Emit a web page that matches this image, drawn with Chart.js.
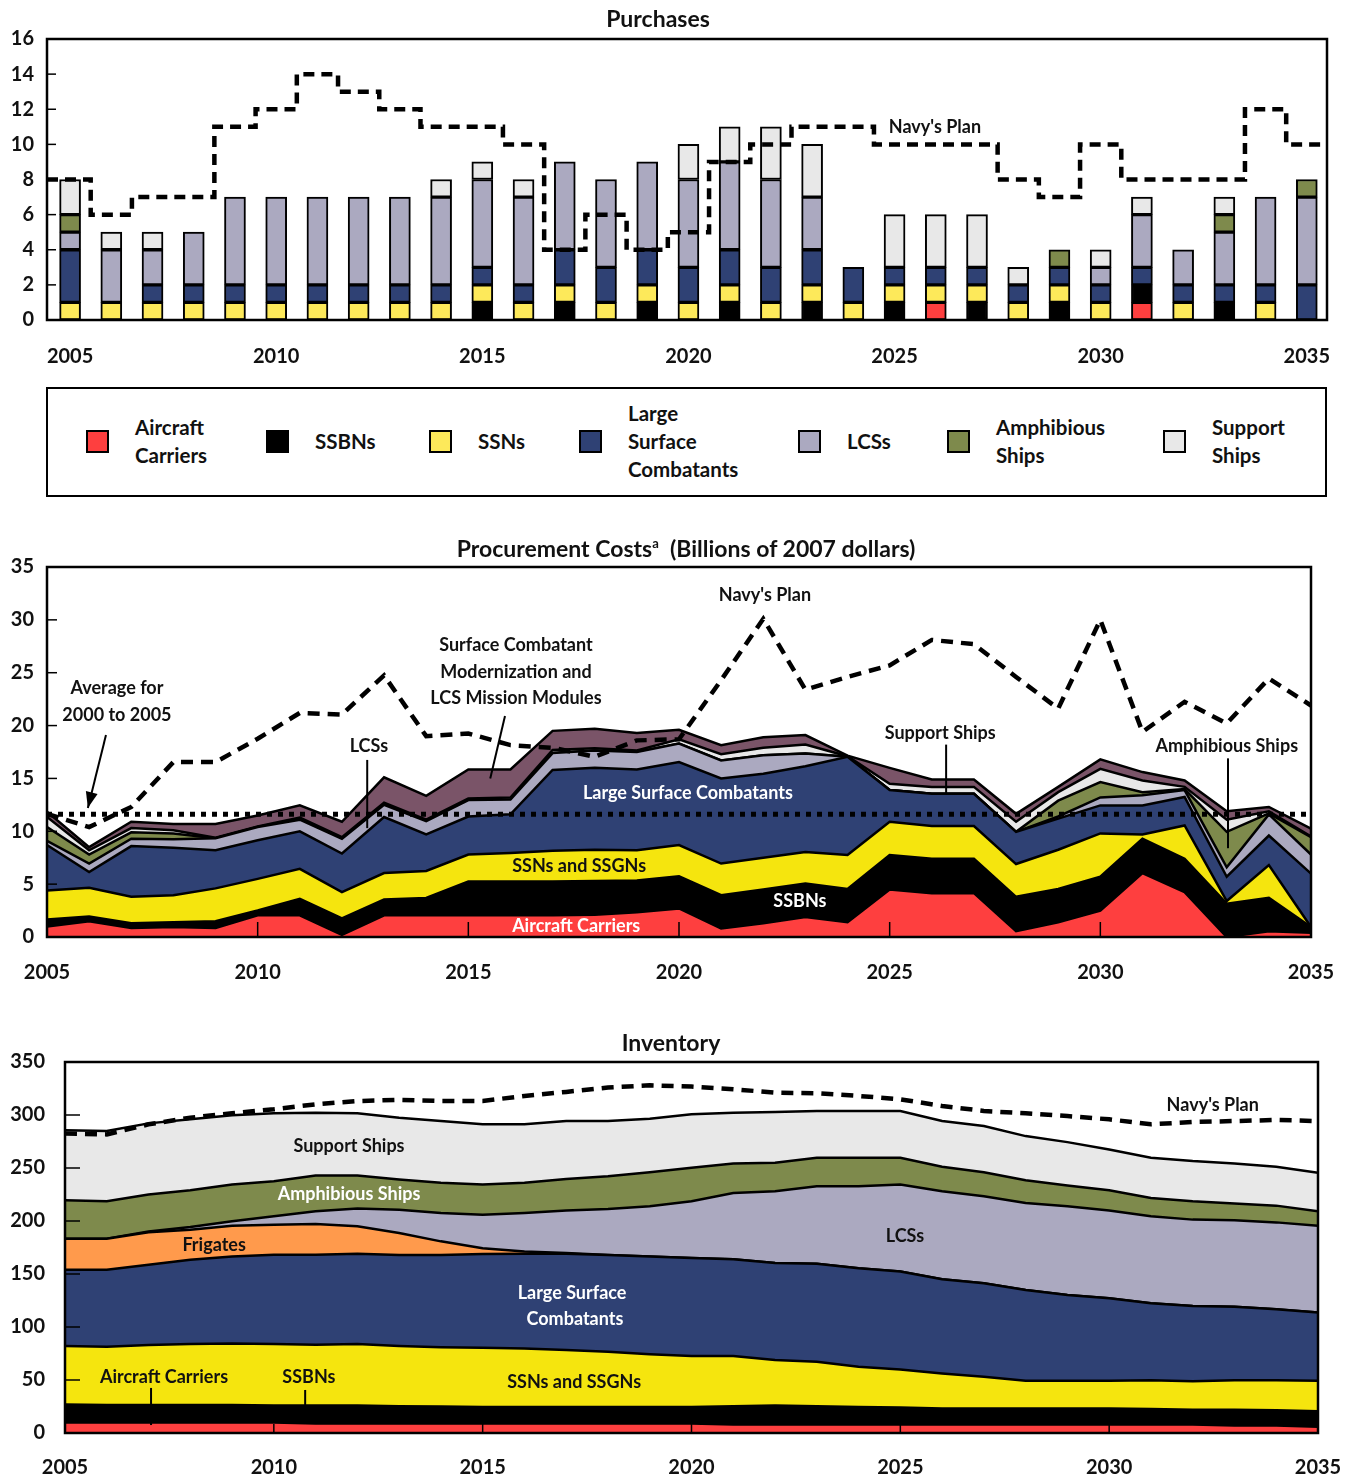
<!DOCTYPE html>
<html>
<head>
<meta charset="utf-8">
<script src="https://cdn.jsdelivr.net/npm/chart.js@4.4.0/dist/chart.umd.min.js"></script>
<style>
  body { margin: 0; background: #fff; font-family: Lato, "Open Sans", sans-serif; color: #111; }
  #page { position: relative; width: 1355px; height: 1482px; overflow: hidden; }
  canvas { position: absolute; left: 0; }
  .title { position: absolute; font-weight: 700; font-size: 23px; line-height: 26px; transform: translateX(-50%); white-space: nowrap; z-index: 2; }
  .title sup { font-size: 13px; vertical-align: 9px; }
  #legend { position: absolute; left: 46px; top: 387px; width: 1277px; height: 106px; border: 2px solid #000; }
  .sw { position: absolute; width: 19px; height: 19px; border: 2px solid #000; }
  .lab { position: absolute; font-weight: 700; font-size: 20.5px; line-height: 28px; white-space: pre; }
</style>
</head>
<body>
<div id="page">
  <div class="title" style="left:658px;top:5px;">Purchases</div>
  <div class="title" style="left:686px;top:530px;">Procurement Costs<sup>a</sup>&nbsp; (Billions of 2007 dollars)</div>
  <div class="title" style="left:671px;top:1029px;">Inventory</div>
  <canvas id="purchases" width="1355" height="380" style="top:0px"></canvas>
  <div id="legend"></div>
  <canvas id="costs" width="1355" height="460" style="top:540px"></canvas>
  <canvas id="inventory" width="1355" height="442" style="top:1040px"></canvas>
</div>
<script>
// ---------- shared ----------
const years = [];
for (let y = 2005; y <= 2035; y++) years.push(y);
const yearTicks = [2005, 2010, 2015, 2020, 2025, 2030, 2035];

const RED = '#fe3f3f', BLACK = '#000000', NAVY = '#2f4174', LAVENDER = '#aba9c0',
      OLIVE = '#7e8a4c', GRAY = '#e8e8e8', MAUVE = '#7a5468', ORANGE = '#ff9a4c',
      YELLOW_BAR = '#fde95a', YELLOW = '#f5e50e';

// ---------- Purchases (ships per year) ----------
const purchaseTicks = [0, 2, 4, 6, 8, 10, 12, 14, 16];
const carriersBuy = [0,0,0,0,0,0,0,0,0,0,0,0,0,0,0,0,0,0,0,0,0,1,0,0,0,0,1,0,0,0,0];
const ssbnsBuy    = [0,0,0,0,0,0,0,0,0,0,1,0,1,0,1,0,1,0,1,0,1,0,1,0,1,0,1,0,1,0,0];
const ssnsBuy     = [1,1,1,1,1,1,1,1,1,1,1,1,1,1,1,1,1,1,1,1,1,1,1,1,1,1,0,1,0,1,0];
const lscBuy      = [3,0,1,1,1,1,1,1,1,1,1,1,2,2,2,2,2,2,2,2,1,1,1,1,1,1,1,1,1,1,2];
const lcsBuy      = [1,3,2,3,5,5,5,5,5,5,5,5,5,5,5,5,5,5,3,0,0,0,0,0,0,1,3,2,3,5,5];
const amphibBuy   = [1,0,0,0,0,0,0,0,0,0,0,0,0,0,0,0,0,0,0,0,0,0,0,0,1,0,0,0,1,0,1];
const supportBuy  = [2,1,1,0,0,0,0,0,0,1,1,1,0,0,0,2,2,3,3,0,3,3,3,1,0,1,1,0,1,0,0];
const planBuy     = [8,6,7,7,11,12,14,13,12,11,11,10,4,6,4,5,9,10,11,11,10,10,10,8,7,10,8,8,8,12,10];

const legendNames  = ['Aircraft\nCarriers', 'SSBNs', 'SSNs', 'Large\nSurface\nCombatants', 'LCSs', 'Amphibious\nShips', 'Support\nShips'];
const legendColors = [RED, BLACK, YELLOW_BAR, NAVY, LAVENDER, OLIVE, GRAY];
const legendX      = [97, 277, 440, 590, 809, 958, 1174];

// ---------- Procurement costs (billions of 2007 dollars) ----------
const costTicks = [0, 5, 10, 15, 20, 25, 30, 35];
const carriersCost = [1.0,1.5,0.85,0.95,0.85,2.05,2.05,0.2,2.05,2.05,2.05,2.05,2.05,2.1,2.35,2.7,0.8,1.3,1.9,1.4,4.5,4.15,4.15,0.55,1.4,2.5,6.05,4.25,0,0.55,0.4];
const ssbnsCost    = [0.65,0.45,0.45,0.45,0.65,0.45,1.55,1.55,1.5,1.65,3.2,3.2,3.2,3.2,3.0,3.05,3.15,3.2,3.15,3.15,3.25,3.25,3.25,3.25,3.15,3.2,3.25,3.15,3.15,3.15,0.55];
const ssnsCost     = [2.75,2.7,2.5,2.55,3.1,3.0,2.85,2.5,2.5,2.55,2.55,2.7,2.9,2.95,2.85,2.95,3.0,3.0,3.0,3.2,3.15,3.1,3.1,3.1,3.7,4.1,0.4,3.15,0.25,3.1,0];
const lscCost      = [4.3,1.5,4.8,4.5,3.6,3.65,3.55,3.65,5.3,3.45,3.6,3.65,7.65,7.75,7.65,7.85,8.05,7.95,8.1,9.3,3.0,3.05,3.05,3.05,2.95,2.65,2.75,2.7,2.3,2.8,5.05];
const lcsCost      = [0.4,0.8,0.7,0.8,1.15,1.25,1.1,1.4,1.15,1.25,1.55,1.4,1.6,1.65,1.65,1.75,1.7,1.75,1.2,0,0,0,0,0,0.2,0.75,0.95,0.65,0.9,2.0,1.8];
const amphibCost   = [1.3,0.85,0.6,0.55,0,0,0,0,0,0,0,0,0,0,0,0,0,0,0,0,0,0,0,0,1.5,1.45,0.3,0.1,3.35,0.1,1.65];
const supportCost  = [0.95,0.4,0.4,0.3,0.05,0.05,0.2,0.15,0.2,0.15,0.15,0.2,0.3,0.2,0.15,0.4,0.6,0.7,0.85,0.05,0.6,0.65,0.65,0.95,0.8,1.25,1.1,0.2,1.15,0.2,0.05];
const modCost      = [0.5,0.3,0.6,0.6,1.3,1.05,1.15,1.45,2.4,2.25,2.75,2.65,1.8,1.85,1.65,0.9,0.85,1.0,0.9,0.05,1.5,0.7,0.7,0.75,0.5,0.9,0.8,0.6,0.8,0.4,0.75];
const planCost     = [11.65,10.4,12.3,16.55,16.55,18.75,21.2,21.05,24.75,19.0,19.25,18.15,17.9,17.05,18.6,18.7,24.3,30.1,23.4,24.6,25.7,28.1,27.7,24.6,21.6,30.0,19.4,22.25,20.2,24.45,21.9];
const avgCost2000to2005 = 11.6;

// ---------- Inventory (number of ships) ----------
const invTicks = [0, 50, 100, 150, 200, 250, 300, 350];
const carriersInv = [10,10,10,10,10,10,9,9,9,9,9,9,9,9,9,9,8,8,8,8,8,8,8,8,8,8,8,8,7,7,6];
const ssbnsInv    = [17,16.5,16.5,16.5,16.5,16,17,17,16.2,16,15.6,15.6,15.6,15.6,15.6,15.6,17.2,17.9,17.2,16.6,16,15,15,15,15,15,14.7,14,15,14.5,14.5];
const ssnsInv     = [55,54.9,56.5,57.5,58,58,57.3,58,56.8,55.8,55.8,55.2,53.6,52.1,49.8,48,47.4,42.9,42,37.9,35.9,33.2,30,26.2,26.2,26.2,27.1,26.9,27.8,28.3,28.7];
const lscInv      = [72,72.6,75.7,79.4,82.1,84.1,84.8,85,86,87.2,88.4,89.2,90.8,91.3,92.2,92.4,91.4,91.5,92.4,93,92.5,88.8,88.3,85.8,81.1,77.9,72.6,71,69.4,66.9,64.4];
const frigatesInv = [29.3,29.3,30.6,28.4,29,28.4,29.1,26,20.6,12.8,5.6,2.3,0.7,0,0,0,0,0,0,0,0,0,0,0,0,0,0,0,0,0,0];
const lcsInv      = [0,0,0.7,2.5,4.1,7.9,11.9,16.7,22.1,26.8,31.6,36.3,40.3,43.4,47.3,53.6,62.5,67.7,73.2,77.3,82,83,82,82,83.6,82.9,82,81.4,81.4,82,82];
const amphibInv   = [36.3,35.3,34.9,34.7,34.7,33.1,33.8,31.2,28.4,28.4,28.4,28.4,29.7,30.9,32.1,31.6,27.8,26.9,26.8,26.8,25.2,23.1,22.7,21.5,19.5,19,17.4,17.3,15.8,15.8,13.5];
const supportInv  = [65.9,66.3,67.2,66.9,65.3,64.1,59.3,58.7,58.4,58.3,56.8,55.2,54.6,52,50.5,50.4,47.9,47.9,44.2,44.2,44.2,43.2,43.6,41.6,41,38.5,37.8,37.9,37.9,36.6,36.3];
const planInv     = [282.6,281.7,291.2,297.5,301.6,305.4,310.1,313.2,314.2,313.2,313.2,318,321.8,325.9,328,326.8,324.3,321.1,320.5,318,314.8,308.5,303.8,301.6,299,295.9,291.2,293.4,294.3,295.3,294.3];

// ---------- helpers ----------
Chart.defaults.font.family = 'Lato, "Open Sans", sans-serif';
Chart.defaults.color = '#111';

function pts(arr, skipZero) {
  return years.map((yr, i) => ({ x: yr, y: (skipZero && !arr[i]) ? null : arr[i] }));
}

function area(label, arr, color, first) {
  return {
    type: 'line', label: label, data: pts(arr), fill: first ? 'origin' : '-1',
    backgroundColor: color, borderColor: '#000', borderWidth: 2.5,
    pointRadius: 0, tension: 0, order: 1
  };
}

function bars(label, arr, color) {
  return {
    type: 'bar', label: label, data: pts(arr, true), backgroundColor: color,
    borderColor: '#000', borderWidth: 2, borderSkipped: false, barThickness: 21, order: 1
  };
}

// axis label overhang should not push the plot area in; layout padding sets it
function noOverhang(s) {
  s.paddingLeft = 0; s.paddingRight = 0; s.paddingTop = 0; s.paddingBottom = 0;
}

function axes(xMin, xMax, xPad, xHeight, yMax, yTickList, yWidth, yPad, stacked) {
  return {
    x: {
      type: 'linear', min: xMin, max: xMax, offset: false, stacked: stacked,
      grid: { display: false, drawTicks: false }, border: { display: false },
      afterBuildTicks: s => { s.ticks = yearTicks.map(v => ({ value: v })); },
      afterFit: s => { s.height = xHeight; noOverhang(s); },
      ticks: { autoSkip: false, maxRotation: 0, padding: xPad, font: { size: 20, weight: 'bold' }, callback: v => String(v) }
    },
    y: {
      min: 0, max: yMax, stacked: true,
      grid: { display: false, drawTicks: false }, border: { display: false },
      afterBuildTicks: s => { s.ticks = yTickList.map(v => ({ value: v })); },
      afterFit: s => { s.width = yWidth; noOverhang(s); },
      ticks: { padding: yPad, font: { size: 20, weight: 'bold' }, callback: v => String(v) }
    }
  };
}

// frame round the plot plus short inner tick marks
const framePlugin = {
  id: 'frame',
  afterDatasetsDraw(chart, args, opts) {
    const { ctx, chartArea: a, scales: { x, y } } = chart;
    ctx.save();
    ctx.strokeStyle = '#000';
    ctx.lineWidth = 1.5;
    y.ticks.forEach(t => {
      const py = y.getPixelForValue(t.value);
      ctx.beginPath(); ctx.moveTo(a.left, py); ctx.lineTo(a.left + opts.yTick, py); ctx.stroke();
    });
    if (opts.xTick) {
      yearTicks.slice(1, -1).forEach(v => {
        const px = x.getPixelForValue(v);
        ctx.beginPath(); ctx.moveTo(px, a.bottom); ctx.lineTo(px, a.bottom - opts.xTick); ctx.stroke();
      });
    }
    ctx.lineWidth = 2.5;
    ctx.strokeRect(a.left, a.top, a.right - a.left, a.bottom - a.top);
    ctx.restore();
  }
};

// text labels and leader lines, placed in data coordinates
const notesPlugin = {
  id: 'notes',
  afterDatasetsDraw(chart, args, opts) {
    const { ctx, scales: { x, y } } = chart;
    ctx.save();
    ctx.strokeStyle = '#000';
    ctx.fillStyle = '#000';
    ctx.lineWidth = 2;
    (opts.lines || []).forEach(l => {
      const x1 = x.getPixelForValue(l[0]), y1 = y.getPixelForValue(l[1]);
      const x2 = x.getPixelForValue(l[2]), y2 = y.getPixelForValue(l[3]);
      ctx.beginPath(); ctx.moveTo(x1, y1); ctx.lineTo(x2, y2); ctx.stroke();
      if (l[4]) {
        const ang = Math.atan2(y2 - y1, x2 - x1);
        ctx.beginPath();
        ctx.moveTo(x2, y2);
        ctx.lineTo(x2 - 16 * Math.cos(ang) + 6 * Math.sin(ang), y2 - 16 * Math.sin(ang) - 6 * Math.cos(ang));
        ctx.lineTo(x2 - 16 * Math.cos(ang) - 6 * Math.sin(ang), y2 - 16 * Math.sin(ang) + 6 * Math.cos(ang));
        ctx.closePath(); ctx.fill();
      }
    });
    ctx.textAlign = 'center';
    ctx.textBaseline = 'middle';
    (opts.texts || []).forEach(t => {
      ctx.font = '700 ' + (t.size || 18) + 'px Lato, "Open Sans", sans-serif';
      ctx.fillStyle = t.color || '#111';
      ctx.fillText(t.text, x.getPixelForValue(t.x), y.getPixelForValue(t.y));
    });
    ctx.restore();
  }
};

const baseOptions = {
  responsive: false, animation: false,
  plugins: { legend: { display: false }, tooltip: { enabled: false } }
};

// ---------- chart 1: purchases ----------
const buyXMin = 2004.44, buyXMax = 2035.49;
const planBuyPts = [{ x: buyXMin, y: planBuy[0] }].concat(pts(planBuy), [{ x: buyXMax, y: planBuy[planBuy.length - 1] }]);

new Chart(document.getElementById('purchases'), {
  type: 'bar',
  data: {
    datasets: [
      bars('Aircraft Carriers', carriersBuy, RED),
      bars('SSBNs', ssbnsBuy, BLACK),
      bars('SSNs', ssnsBuy, YELLOW_BAR),
      bars('Large Surface Combatants', lscBuy, NAVY),
      bars('LCSs', lcsBuy, LAVENDER),
      bars('Amphibious Ships', amphibBuy, OLIVE),
      bars('Support Ships', supportBuy, GRAY),
      { type: 'line', label: "Navy's Plan", data: planBuyPts, stack: 'plan', stepped: 'middle',
        borderColor: '#000', borderWidth: 4.5, borderDash: [11, 7], pointRadius: 0, fill: false, order: -1 }
    ]
  },
  options: Object.assign({}, baseOptions, {
    layout: { padding: { top: 39, right: 28, left: 0, bottom: 0 } },
    scales: axes(buyXMin, buyXMax, 25, 60, 16, purchaseTicks, 47, 13, true),
    plugins: Object.assign({}, baseOptions.plugins, {
      frame: { yTick: 9, xTick: 0 },
      notes: { texts: [{ text: "Navy's Plan", x: 2025.98, y: 11.0 }] }
    })
  }),
  plugins: [framePlugin, notesPlugin]
});

// legend built from the purchase series names and colours
const legendEl = document.getElementById('legend');
legendNames.forEach((name, i) => {
  const sw = document.createElement('div');
  sw.className = 'sw';
  sw.style.left = (legendX[i] - 46 - 13) + 'px';
  sw.style.top = (441 - 387 - 13) + 'px';
  sw.style.background = legendColors[i];
  legendEl.appendChild(sw);
  const lab = document.createElement('div');
  const n = name.split('\n').length;
  lab.className = 'lab';
  lab.textContent = name;
  lab.style.left = (legendX[i] - 46 + 36) + 'px';
  lab.style.top = (441 - 387 - 2 - 14 * n) + 'px';
  legendEl.appendChild(lab);
});

// ---------- chart 2: procurement costs ----------
new Chart(document.getElementById('costs'), {
  type: 'line',
  data: {
    datasets: [
      area('Aircraft Carriers', carriersCost, RED, true),
      area('SSBNs', ssbnsCost, BLACK),
      area('SSNs and SSGNs', ssnsCost, YELLOW),
      area('Large Surface Combatants', lscCost, NAVY),
      area('LCSs', lcsCost, LAVENDER),
      area('Amphibious Ships', amphibCost, OLIVE),
      area('Support Ships', supportCost, GRAY),
      area('Surface Combatant Modernization and LCS Mission Modules', modCost, MAUVE),
      { label: "Navy's Plan", data: pts(planCost), stack: 'plan', fill: false, borderColor: '#000',
        borderWidth: 4.5, borderDash: [12, 8], pointRadius: 0, tension: 0, order: -1 },
      { label: 'Average for 2000 to 2005', data: [{ x: 2005, y: avgCost2000to2005 }, { x: 2035, y: avgCost2000to2005 }],
        stack: 'avg', fill: false, borderColor: '#000', borderWidth: 5, borderDash: [5, 6], pointRadius: 0, order: -1 }
    ]
  },
  options: Object.assign({}, baseOptions, {
    layout: { padding: { top: 27, right: 44, left: 0, bottom: 0 } },
    scales: axes(2005, 2035, 24, 63, 35, costTicks, 47, 13, false),
    plugins: Object.assign({}, baseOptions.plugins, {
      frame: { yTick: 10, xTick: 15 },
      notes: {
        lines: [
          [2006.40, 19.1, 2005.97, 12.2, true],
          [2012.6, 16.75, 2012.6, 10.3],
          [2015.87, 20.9, 2015.52, 15.0],
          [2026.34, 18.2, 2026.34, 13.6],
          [2033.03, 16.9, 2033.03, 8.4]
        ],
        texts: [
          { text: 'Average for', x: 2006.66, y: 23.55 },
          { text: '2000 to 2005', x: 2006.66, y: 21.0 },
          { text: 'LCSs', x: 2012.64, y: 18.07 },
          { text: 'Surface Combatant', x: 2016.13, y: 27.6 },
          { text: 'Modernization and', x: 2016.13, y: 25.07 },
          { text: 'LCS Mission Modules', x: 2016.13, y: 22.6 },
          { text: "Navy's Plan", x: 2022.04, y: 32.3 },
          { text: 'Large Surface Combatants', x: 2020.21, y: 13.6, color: '#fff' },
          { text: 'SSNs and SSGNs', x: 2017.63, y: 6.7 },
          { text: 'SSBNs', x: 2022.87, y: 3.4, color: '#fff' },
          { text: 'Aircraft Carriers', x: 2017.56, y: 1.05, color: '#fff' },
          { text: 'Support Ships', x: 2026.2, y: 19.3 },
          { text: 'Amphibious Ships', x: 2033.0, y: 18.07 }
        ]
      }
    })
  }),
  plugins: [framePlugin, notesPlugin]
});

// ---------- chart 3: inventory ----------
new Chart(document.getElementById('inventory'), {
  type: 'line',
  data: {
    datasets: [
      area('Aircraft Carriers', carriersInv, RED, true),
      area('SSBNs', ssbnsInv, BLACK),
      area('SSNs and SSGNs', ssnsInv, YELLOW),
      area('Large Surface Combatants', lscInv, NAVY),
      area('Frigates', frigatesInv, ORANGE),
      area('LCSs', lcsInv, LAVENDER),
      area('Amphibious Ships', amphibInv, OLIVE),
      area('Support Ships', supportInv, GRAY),
      { label: "Navy's Plan", data: pts(planInv), stack: 'plan', fill: false, borderColor: '#000',
        borderWidth: 4.5, borderDash: [12, 8], pointRadius: 0, tension: 0, order: -1 }
    ]
  },
  options: Object.assign({}, baseOptions, {
    layout: { padding: { top: 22, right: 37, left: 0, bottom: 0 } },
    scales: axes(2005, 2035, 23, 49, 350, invTicks, 65, 20, false),
    plugins: Object.assign({}, baseOptions.plugins, {
      frame: { yTick: 15, xTick: 9 },
      notes: {
        lines: [
          [2007.06, 42.5, 2007.06, 7.5],
          [2010.75, 40.6, 2010.75, 26.4]
        ],
        texts: [
          { text: 'Support Ships', x: 2011.8, y: 270.8 },
          { text: 'Amphibious Ships', x: 2011.8, y: 225.5, color: '#fff' },
          { text: 'Frigates', x: 2008.57, y: 177.4 },
          { text: 'LCSs', x: 2025.11, y: 185.8 },
          { text: 'Large Surface', x: 2017.14, y: 132.1, color: '#fff' },
          { text: 'Combatants', x: 2017.21, y: 107.5, color: '#fff' },
          { text: 'Aircraft Carriers', x: 2007.37, y: 52.8 },
          { text: 'SSBNs', x: 2010.84, y: 52.8 },
          { text: 'SSNs and SSGNs', x: 2017.19, y: 48.1 },
          { text: "Navy's Plan", x: 2032.48, y: 309.4 }
        ]
      }
    })
  }),
  plugins: [framePlugin, notesPlugin]
});
</script>
</body>
</html>
